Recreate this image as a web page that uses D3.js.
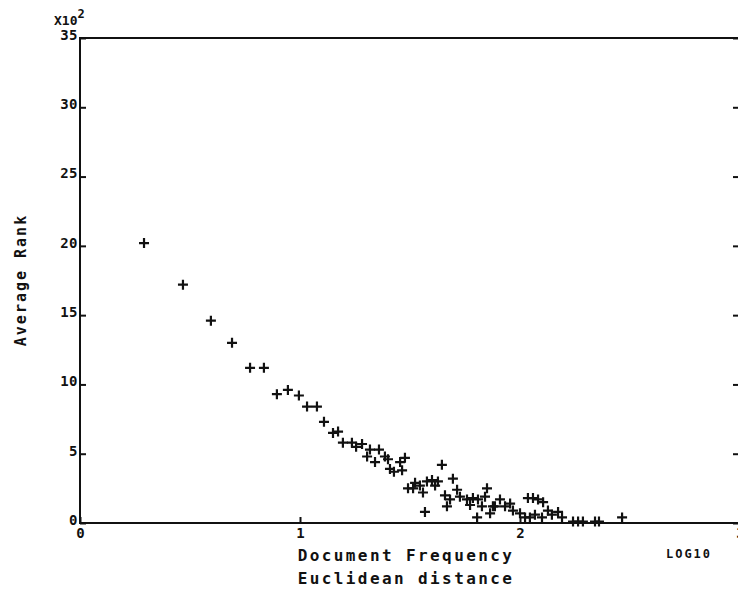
<!DOCTYPE html>
<html>
<head>
<meta charset="utf-8">
<script src="https://cdn.jsdelivr.net/npm/d3@7"></script>
<style>
  body { margin: 0; background: #fff; }
  svg { display: block; }
  .plot text { font-family: "DejaVu Sans Mono", monospace; font-weight: bold; fill: #111; }
</style>
</head>
<body>
<svg id="chart" class="plot" width="738" height="599"></svg>
<script>
// document frequency (log10) and average rank (x10^2)
const docFreq = [0.291, 0.468, 0.595, 0.691, 0.773, 0.836, 0.895, 0.945, 0.995, 1.032,
  1.077, 1.109, 1.150, 1.173, 1.195, 1.236, 1.255, 1.282, 1.305, 1.318,
  1.341, 1.359, 1.386, 1.400, 1.409, 1.427, 1.455, 1.464, 1.477, 1.491,
  1.514, 1.523, 1.545, 1.559, 1.568, 1.577, 1.600, 1.614, 1.627, 1.645,
  1.659, 1.668, 1.682, 1.695, 1.714, 1.727, 1.759, 1.773, 1.786, 1.805,
  1.809, 1.827, 1.841, 1.850, 1.864, 1.886, 1.877, 1.909, 1.932, 1.955,
  1.968, 2.000, 2.023, 2.036, 2.045, 2.059, 2.068, 2.082, 2.100, 2.105,
  2.127, 2.145, 2.173, 2.191, 2.241, 2.264, 2.286, 2.341, 2.359, 2.464];
const avgRank = [20.2, 17.2, 14.6, 13.0, 11.2, 11.2, 9.3, 9.6, 9.2, 8.4,
  8.4, 7.3, 6.5, 6.6, 5.8, 5.8, 5.5, 5.7, 4.8, 5.3,
  4.4, 5.3, 4.8, 4.6, 3.9, 3.7, 4.4, 3.8, 4.7, 2.5,
  2.5, 2.9, 2.7, 2.2, 0.8, 3.0, 3.1, 2.7, 3.0, 4.2,
  2.0, 1.2, 1.7, 3.2, 2.4, 1.9, 1.7, 1.3, 1.8, 0.4,
  1.7, 1.2, 1.9, 2.5, 0.7, 1.2, 1.2, 1.7, 1.2, 1.4,
  0.9, 0.7, 0.4, 1.8, 0.4, 1.8, 0.6, 1.7, 0.4, 1.5,
  0.9, 0.6, 0.8, 0.4, 0.1, 0.1, 0.1, 0.1, 0.1, 0.4];
const xTicks = [0, 1, 2, 3];
const yTicks = [0, 5, 10, 15, 20, 25, 30, 35];

const svg = d3.select("#chart");
const margin = { top: 38, right: -2, bottom: 76, left: 80 };
const width = 738 - margin.left - margin.right;
const height = 599 - margin.top - margin.bottom;

const x = d3.scaleLinear().domain([0, 3]).range([0, width]);
const y = d3.scaleLinear().domain([0, 35]).range([height, 0]);

const g = svg.append("g").attr("transform", `translate(${margin.left},${margin.top})`);

// frame
g.append("rect")
  .attr("width", width).attr("height", height)
  .attr("fill", "none").attr("stroke", "#111").attr("stroke-width", 2);

// left axis
const yAxis = g.append("g")
  .call(d3.axisLeft(y).tickValues(yTicks).tickSizeInner(-6).tickSizeOuter(0).tickPadding(2));
// right axis ticks
g.append("g")
  .attr("transform", `translate(${width},0)`)
  .call(d3.axisRight(y).tickValues(yTicks).tickSizeInner(-7).tickSizeOuter(0).tickFormat(""));
// bottom axis
const xAxis = g.append("g")
  .attr("transform", `translate(0,${height})`)
  .call(d3.axisBottom(x).tickValues(xTicks).tickFormat(d3.format("d"))
    .tickSizeInner(-6).tickSizeOuter(0).tickPadding(5));

g.selectAll(".domain").remove();
g.selectAll(".tick line").attr("stroke", "#111").attr("stroke-width", 2);
yAxis.selectAll("text").attr("font-size", 14).attr("dy", "0.1em").attr("letter-spacing", 0.5);
xAxis.selectAll("text").attr("font-size", 14);

// points
const arm = 5;
g.append("g")
  .selectAll("path")
  .data(docFreq.map((d, i) => [d, avgRank[i]]))
  .join("path")
  .attr("d", d => {
    const cx = x(d[0]), cy = y(d[1]);
    return `M${cx - arm},${cy}H${cx + arm}M${cx},${cy - arm}V${cy + arm}`;
  })
  .attr("stroke", "#111")
  .attr("stroke-width", 2.2)
  .attr("fill", "none");

// scale multiplier
const mult = svg.append("text")
  .attr("x", 54).attr("y", 25)
  .attr("font-size", 13);
mult.append("tspan").text("X10");
mult.append("tspan").attr("dy", -7).attr("font-size", 12).text("2");

// axis titles
svg.append("text")
  .attr("x", 406).attr("y", 561)
  .attr("text-anchor", "middle")
  .attr("font-size", 16).attr("letter-spacing", 2.4)
  .text("Document Frequency");
svg.append("text")
  .attr("x", 406).attr("y", 584)
  .attr("text-anchor", "middle")
  .attr("font-size", 16).attr("letter-spacing", 2.4)
  .text("Euclidean distance");
svg.append("text")
  .attr("x", 689).attr("y", 558)
  .attr("text-anchor", "middle")
  .attr("font-size", 12).attr("letter-spacing", 2)
  .text("LOG10");
svg.append("text")
  .attr("transform", "translate(26,280) rotate(-90)")
  .attr("text-anchor", "middle")
  .attr("font-size", 15).attr("letter-spacing", 2)
  .text("Average Rank");
</script>
</body>
</html>
